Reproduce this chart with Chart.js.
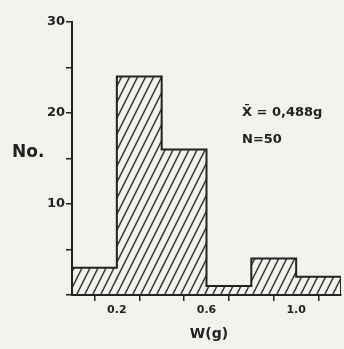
<!DOCTYPE html>
<html>
<head>
<meta charset="utf-8">
<script src="https://cdn.jsdelivr.net/npm/chart.js@4/dist/chart.umd.min.js"></script>
<style>
  html, body { margin: 0; padding: 0; background: #f2f2ee; }
  #wrap { width: 344px; height: 349px; }
</style>
</head>
<body>
<div id="wrap"><canvas id="hist"></canvas></div>
<script>
// 0.2 g bins: edges and counts
const binEdges = [0, 0.2, 0.4, 0.6, 0.8, 1.0, 1.2];
const counts = [3, 24, 16, 1, 4, 2];
const xLabelled = [0.2, 0.6, 1.0];
const yLabelled = [10, 20, 30];
const notes = ['X\u0304 = 0,488g', 'N=50'];

const ink = '#222222';
const font = 'DejaVu Sans, sans-serif';

// bar centres and the stepped outline of the histogram
const bars = counts.map((c, i) => ({ x: (binEdges[i] + binEdges[i + 1]) / 2, y: c }));
const outline = [{ x: binEdges[0], y: 0 }]
  .concat(counts.map((c, i) => ({ x: binEdges[i], y: c })))
  .concat([{ x: binEdges[binEdges.length - 1], y: counts[counts.length - 1] },
           { x: binEdges[binEdges.length - 1], y: 0 }]);

// steep diagonal hatching, like the original drawing
function hatch() {
  const c = document.createElement('canvas');
  c.width = 8; c.height = 16;
  const g = c.getContext('2d');
  g.strokeStyle = '#3a3a3a';
  g.lineWidth = 1.5;
  g.beginPath();
  for (const dx of [-8, 0, 8]) {
    g.moveTo(dx - 2, 20); g.lineTo(dx + 10, -4);
  }
  g.stroke();
  return g.createPattern(c, 'repeat');
}

const textPlugin = {
  id: 'texts',
  afterDraw(chart) {
    const ctx = chart.ctx;
    ctx.save();
    ctx.fillStyle = ink;
    ctx.textBaseline = 'middle';
    ctx.textAlign = 'left';
    ctx.font = 'bold 13px ' + font;
    ctx.fillText(notes[0], 242, 113);
    ctx.fillText(notes[1], 242, 140);
    ctx.font = 'bold 17px ' + font;
    ctx.fillText('No.', 12, 153);
    ctx.textAlign = 'center';
    ctx.font = 'bold 14px ' + font;
    ctx.fillText('W(g)', 209, 334);
    ctx.restore();
  }
};

new Chart(document.getElementById('hist'), {
  type: 'bar',
  data: {
    datasets: [{
      type: 'line',
      data: outline,
      stepped: 'before',
      borderColor: ink,
      borderWidth: 2,
      pointRadius: 0,
      fill: false,
      order: 0
    }, {
      data: bars,
      backgroundColor: hatch(),
      borderWidth: 0,
      inflateAmount: 0.5,
      order: 1
    }]
  },
  options: {
    responsive: true,
    maintainAspectRatio: false,
    animation: false,
    datasets: { bar: { barPercentage: 1, categoryPercentage: 1 } },
    layout: { padding: { top: 22, right: 3, left: 0, bottom: 0 } },
    plugins: { legend: { display: false }, tooltip: { enabled: false } },
    scales: {
      x: {
        type: 'linear',
        min: 0,
        max: 1.2,
        offset: false,
        afterFit(s) { s.height = 54; },
        grid: { drawOnChartArea: false, color: ink, tickLength: 6, lineWidth: 1.5 },
        border: { color: ink, width: 2 },
        ticks: {
          stepSize: 0.2,
          color: ink,
          font: { family: font, size: 11, weight: 'bold' },
          padding: 3,
          maxRotation: 0,
          callback: v => xLabelled.some(t => Math.abs(t - v) < 1e-6) ? v.toFixed(1) : ''
        }
      },
      y: {
        min: 0,
        max: 30,
        afterFit(s) { s.width = 72; },
        grid: { drawOnChartArea: false, color: ink, tickLength: 6, lineWidth: 1.5 },
        border: { color: ink, width: 2 },
        ticks: {
          stepSize: 5,
          color: ink,
          font: { family: font, size: 13, weight: 'bold' },
          padding: 1,
          callback: v => yLabelled.includes(v) ? String(v) : ''
        }
      }
    }
  },
  plugins: [textPlugin]
});
</script>
</body>
</html>
